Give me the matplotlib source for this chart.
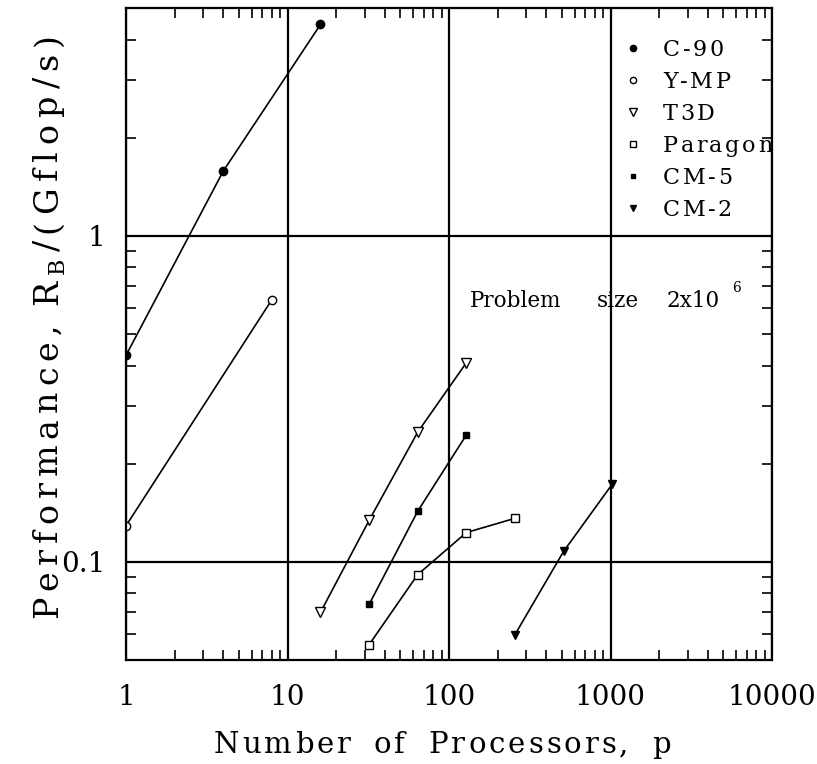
"""
Performance vs number of processors, problem size 2x10^6
"""

import numpy as np
from matplotlib import pyplot as plt
from matplotlib.lines import Line2D
from matplotlib.transforms import Affine2D
from matplotlib.font_manager import FontProperties, findfont, get_font
from matplotlib.ticker import FixedLocator, LogLocator, NullFormatter

# data
c90_p = [1, 4, 16]
c90_r = [0.43, 1.58, 4.45]
ymp_p = [1, 8]
ymp_r = [0.129, 0.637]
t3d_p = [16, 32, 64, 128]
t3d_r = [0.070, 0.134, 0.25, 0.408]
paragon_p = [32, 64, 128, 256]
paragon_r = [0.0557, 0.0914, 0.123, 0.136]
cm5_p = [32, 64, 128]
cm5_r = [0.074, 0.143, 0.245]
cm2_p = [256, 512, 1024]
cm2_r = [0.0598, 0.1076, 0.173]

x_ticks = [1, 10, 100, 1000, 10000]
x_labels = ['1', '10', '100', '1000', '10000']
y_ticks = [0.1, 1]
y_labels = ['0.1', '1']

series = [
    ('C-90', c90_p, c90_r, dict(marker='o', mfc='k', ms=6)),
    ('Y-MP', ymp_p, ymp_r, dict(marker='o', mfc='white', ms=6)),
    ('T3D', t3d_p, t3d_r, dict(marker='v', mfc='white', ms=7)),
    ('Paragon', paragon_p, paragon_r, dict(marker='s', mfc='white', ms=5.5)),
    ('CM-5', cm5_p, cm5_r, dict(marker='s', mfc='k', ms=4.5)),
    ('CM-2', cm2_p, cm2_r, dict(marker='v', mfc='k', ms=6)),
]

W, H = 817, 764
FAMILY = 'DejaVu Serif'
plt.rcParams['font.family'] = [FAMILY]
plt.rcParams['mathtext.fontset'] = 'dejavuserif'

fig = plt.figure(figsize=(W / 100, H / 100), dpi=100)
ax = fig.add_axes([126 / W, 1 - 660 / H, 646 / W, 652 / H])
# pixel coords with origin at top left, for the letter spaced labels
px = Affine2D().scale(1, -1).translate(0, H)
ft = get_font(findfont(FontProperties(family=FAMILY)))


def tracked(runs, x0, y0, space=0.0, rot=0):
    """letter spaced text; runs = [(text, size, baseline shift, track), ...]
    x0, y0 = start of baseline (bottom end when rot=90)"""
    pos = 0.0
    for s, size, shift, track in runs:
        ft.set_size(size, 100)
        for ch in s:
            if rot == 0:
                x, y = x0 + pos, y0 + shift
            else:
                x, y = x0 + shift, y0 - pos
            fig.text(x, y, ch, transform=px, ha='left', va='baseline',
                     rotation=rot, rotation_mode='anchor', fontsize=size)
            pos += ft.load_char(ord(ch)).linearHoriAdvance / 65536 + track
            if ch == ' ':
                pos += space


for name, p, r, st in series:
    ax.plot(p, r, color='k', lw=1.2, mec='k', mew=1.0, **st)

ax.set_xscale('log')
ax.set_yscale('log')
ax.set_xlim(1, 10000)
ax.set_ylim(0.05, 5)

ax.xaxis.set_major_locator(FixedLocator(x_ticks))
ax.set_xticklabels(x_labels)
ax.yaxis.set_major_locator(FixedLocator(y_ticks))
ax.set_yticklabels(y_labels)
ax.xaxis.set_minor_locator(LogLocator(base=10, subs=np.arange(2, 10)))
ax.yaxis.set_minor_locator(LogLocator(base=10, subs=np.arange(2, 10)))
ax.xaxis.set_minor_formatter(NullFormatter())
ax.yaxis.set_minor_formatter(NullFormatter())

ax.tick_params(which='both', direction='in', top=True, right=True, width=1.2)
ax.tick_params(which='major', length=0, labelsize=20)
ax.tick_params(axis='x', which='major', pad=17)
ax.tick_params(axis='y', which='major', pad=15)
ax.tick_params(which='minor', length=7)
ax.grid(True, which='major', color='k', lw=1.6)
for s in ax.spines.values():
    s.set_linewidth(1.6)

# axis titles
tracked([('Number of Processors, p', 21, 0, 3)], 214, 753, space=8)
tracked([('Performance, R', 24, 0, 6.0), ('B', 16, 7, 6.0),
         ('/(Gflop/s)', 24, 0, 6.8)], 57, 618, space=-4, rot=90)

# annotation
fig.text(470, 307, 'Problem', transform=px, fontsize=15.5, va='baseline')
fig.text(597, 307, 'size', transform=px, fontsize=15.5, va='baseline')
fig.text(667, 307, '2x10', transform=px, fontsize=15.5, va='baseline')
fig.text(732, 292, '6', transform=px, fontsize=10, va='baseline')

# legend, drawn by hand: marker column + letter spaced names
for i, (name, p, r, st) in enumerate(series):
    yc = 48 + 32 * i
    key = dict(st)
    key['ms'] = key['ms'] * 0.75
    fig.add_artist(Line2D([633], [yc], transform=px, ls='none', mec='k',
                          mew=1.0, **key))
    tracked([(name, 16, 0, 2.5)], 663, yc + 8)

plt.savefig('out.png', dpi=100)
